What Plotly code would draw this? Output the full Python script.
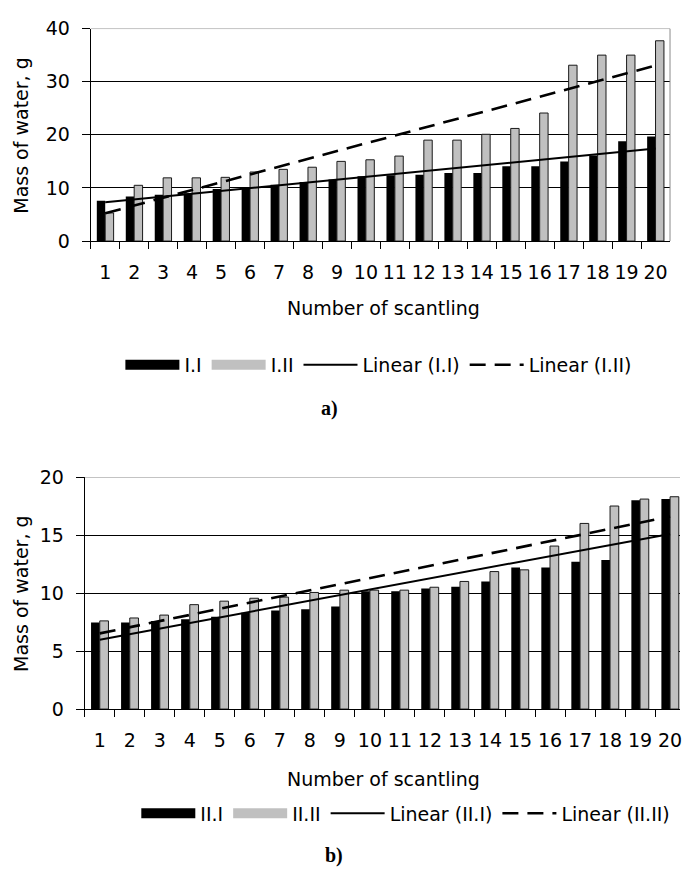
import numpy as np
import plotly.graph_objects as go

# ---------------- data ----------------
categories = [str(i) for i in range(1, 21)]

a_series1_name = "I.I"
a_series2_name = "I.II"
a_I_I = [7.6, 8.4, 8.7, 9.0, 9.8, 10.0, 10.6, 11.1, 11.6, 12.2,
         12.4, 12.5, 12.8, 12.8, 14.1, 14.1, 15.0, 16.1, 18.8, 19.7]
a_I_II = [5.3, 10.5, 11.9, 11.9, 12.0, 13.0, 13.5, 13.9, 15.0, 15.3,
          16.0, 19.0, 19.0, 20.1, 21.2, 24.1, 33.1, 35.0, 35.0, 37.7]

b_series1_name = "II.I"
b_series2_name = "II.II"
b_II_I = [7.45, 7.45, 7.6, 7.75, 7.95, 8.3, 8.5, 8.6, 8.85, 10.15,
          10.15, 10.4, 10.55, 11.0, 12.2, 12.2, 12.7, 12.85, 18.0, 18.1]
b_II_II = [7.6, 7.85, 8.1, 9.0, 9.3, 9.55, 9.65, 10.05, 10.25, 10.25,
           10.25, 10.5, 11.0, 11.85, 12.0, 14.05, 16.0, 17.5, 18.1, 18.3]

y_title = "Mass of water, g"
x_title = "Number of scantling"


def linear_trend(vals):
    n = np.arange(1, len(vals) + 1)
    k, b = np.polyfit(n, vals, 1)
    return k * n + b


# ---------------- styling ----------------
W, H = 682, 878
FONT = "DejaVu Sans"
FS = 19
BLACK = "#000000"
GRAY = "#C0C0C0"
BORDER = "#8c8c8c"


def px(v):
    return v / W


def py(v):
    return 1 - v / H


fig = go.Figure()


def add_panel(xa, ya, s1, s2, n1, n2, legend_name):
    fig.add_trace(go.Bar(x=categories, y=s1, name=n1, marker=dict(color=BLACK, line=dict(width=0)),
                         xaxis=xa, yaxis=ya, showlegend=False, offsetgroup="1"))
    fig.add_trace(go.Bar(x=categories, y=s2, name=n2,
                         marker=dict(color=GRAY, line=dict(color="#1a1a1a", width=1)),
                         xaxis=xa, yaxis=ya, showlegend=False, offsetgroup="2"))
    # legend swatches
    fig.add_trace(go.Scatter(x=[None], y=[None], mode="lines", name=n1,
                             line=dict(color=BLACK, width=14), xaxis=xa, yaxis=ya,
                             legend=legend_name))
    fig.add_trace(go.Scatter(x=[None], y=[None], mode="lines", name=n2,
                             line=dict(color=GRAY, width=14), xaxis=xa, yaxis=ya,
                             legend=legend_name))
    fig.add_trace(go.Scatter(x=categories, y=linear_trend(s1), mode="lines",
                             name="Linear (" + n1 + ")",
                             line=dict(color=BLACK, width=2), xaxis=xa, yaxis=ya,
                             legend=legend_name))
    fig.add_trace(go.Scatter(x=categories, y=linear_trend(s2), mode="lines",
                             name="Linear (" + n2 + ")",
                             line=dict(color=BLACK, width=2.6, dash="16px,9px"),
                             xaxis=xa, yaxis=ya, legend=legend_name))


add_panel("x", "y", a_I_I, a_I_II, a_series1_name, a_series2_name, "legend")
add_panel("x2", "y2", b_II_I, b_II_II, b_series1_name, b_series2_name, "legend2")

tickfont = dict(family=FONT, size=FS, color=BLACK)

xcommon = dict(type="category", tickson="boundaries", ticks="outside", ticklen=7,
               tickcolor=BLACK, showline=True, linecolor=BLACK, linewidth=1,
               showgrid=False, zeroline=False, tickfont=tickfont, tickangle=0,
               ticklabelstandoff=14, fixedrange=True)
ycommon = dict(ticks="outside", ticklen=8, tickcolor=BLACK, showline=True,
               linecolor=BLACK, linewidth=1, showgrid=True, gridcolor=BLACK,
               gridwidth=1, zeroline=False, tickfont=tickfont,
               ticklabelstandoff=8, fixedrange=True)

fig.update_layout(
    width=W, height=H,
    margin=dict(l=0, r=0, t=0, b=0),
    paper_bgcolor="white", plot_bgcolor="white",
    barmode="group", bargap=0.42, bargroupgap=0,
    font=dict(family=FONT, size=FS, color=BLACK),
    xaxis=dict(domain=[px(91), px(672)], anchor="y", range=[-0.5, 19.5], **xcommon),
    yaxis=dict(domain=[py(236), py(18)], anchor="x", range=[0, 40], dtick=10, **ycommon),
    xaxis2=dict(domain=[px(85), 1.0], anchor="y2", range=[-0.5, 19.33], **xcommon),
    yaxis2=dict(domain=[py(716), py(478)], anchor="x2", range=[0, 20], dtick=5, **ycommon),
    legend=dict(orientation="h", x=px(380), xanchor="center", y=py(363), yanchor="middle",
                font=dict(family=FONT, size=FS), itemwidth=54,
                bgcolor="rgba(0,0,0,0)", traceorder="normal"),
    legend2=dict(orientation="h", x=px(407), xanchor="center", y=py(823), yanchor="middle",
                 font=dict(family=FONT, size=FS), itemwidth=54,
                 bgcolor="rgba(0,0,0,0)", traceorder="normal"),
    showlegend=True,
)

# plot-area borders (gray top / right)
fig.add_shape(type="line", xref="x domain", yref="y", x0=0, x1=1, y0=40, y1=40,
              line=dict(color=BORDER, width=1), layer="above")
fig.add_shape(type="line", xref="x domain", yref="y", x0=1, x1=1, y0=0, y1=40,
              line=dict(color=BORDER, width=1), layer="above")
fig.add_shape(type="line", xref="x2 domain", yref="y2", x0=0, x1=1, y0=20, y1=20,
              line=dict(color=BORDER, width=1), layer="above")

ann_font = dict(family=FONT, size=FS, color=BLACK)
lab_font = dict(family="Liberation Serif", size=20, color=BLACK)
for ytxt in (127, 597):
    fig.add_annotation(text=y_title, x=px(21), y=py(ytxt), xref="paper", yref="paper",
                       textangle=-90, showarrow=False, font=ann_font,
                       xanchor="center", yanchor="middle")
for ytxt in (305, 788):
    fig.add_annotation(text=x_title, x=px(385), y=py(ytxt), xref="paper", yref="paper",
                       showarrow=False, font=ann_font, xanchor="center", yanchor="middle")
fig.add_annotation(text="<b>a)</b>", x=px(330), y=py(408), xref="paper", yref="paper",
                   showarrow=False, font=lab_font, xanchor="center", yanchor="middle")
fig.add_annotation(text="<b>b)</b>", x=px(335), y=py(866), xref="paper", yref="paper",
                   showarrow=False, font=lab_font, xanchor="center", yanchor="middle")

# remove the browser's default page margin so the figure fills the window exactly
fig.write_html("out.html",
               config={"displayModeBar": False},
               post_script="document.body.style.margin='0';document.body.style.padding='0';")
